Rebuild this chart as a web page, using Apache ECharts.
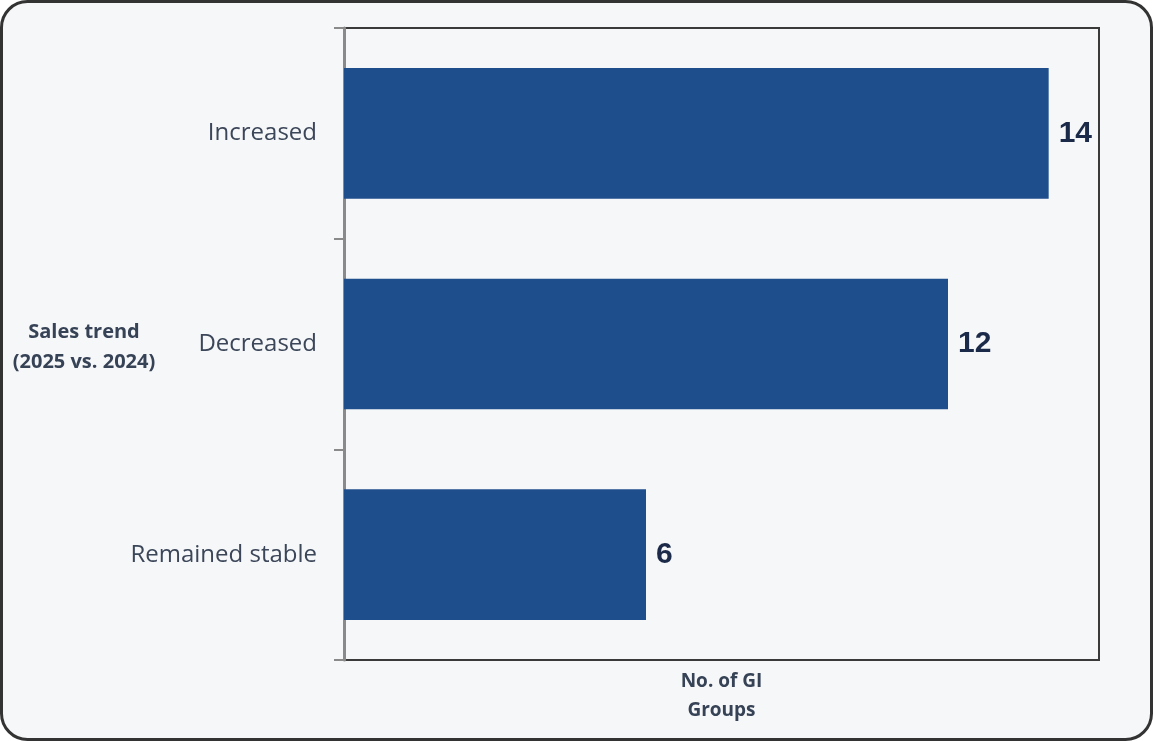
<!DOCTYPE html>
<html>
<head>
<meta charset="utf-8">
<script src="https://cdn.jsdelivr.net/npm/echarts@6/dist/echarts.min.js"></script>
<style>
html,body{margin:0;padding:0;background:#ffffff;}
#chart{width:1153px;height:741px;}
</style>
</head>
<body>
<div id="chart"></div>
<script>
const categories = ["Increased", "Decreased", "Remained stable"];
const values = [14, 12, 6];
const yAxisTitle = "Sales trend\n(2025 vs. 2024)";
const xAxisTitle = "No. of GI\nGroups";

const chart = echarts.init(document.getElementById('chart'), null, {renderer: 'canvas'});
const textColor = '#3b4659';
chart.setOption({
  animation: false,
  backgroundColor: 'transparent',
  graphic: [
    {
      type: 'rect', z: -10, silent: true,
      shape: {x: 1.5, y: 1.5, width: 1150, height: 738, r: 26},
      style: {fill: '#f6f7f9', stroke: '#333333', lineWidth: 3}
    },
    {
      type: 'text', z: 10, x: 84, y: 347,
      style: {
        text: yAxisTitle, fill: '#364255', align: 'center', verticalAlign: 'middle',
        font: 'bold 20px "Open Sans"', lineHeight: 30
      }
    }
  ],
  grid: {
    left: 344, top: 28, right: 54, bottom: 81,
    outerBoundsMode: 'none', containLabel: false,
    show: true, borderColor: '#3a3a3a', borderWidth: 2, backgroundColor: 'transparent'
  },
  xAxis: {
    type: 'value', min: 0, max: 15,
    axisLabel: {show: false}, splitLine: {show: false},
    axisLine: {show: false}, axisTick: {show: false},
    name: xAxisTitle, nameLocation: 'middle', nameGap: 7,
    nameTextStyle: {color: '#364255', fontFamily: 'Open Sans', fontWeight: 'bold', fontSize: 19, lineHeight: 29, verticalAlign: 'top'}
  },
  yAxis: {
    type: 'category', data: categories, inverse: true,
    axisLine: {show: true, lineStyle: {color: '#8a8a8a', width: 3}},
    axisTick: {show: true, length: 10, lineStyle: {color: '#8a8a8a', width: 2}},
    axisLabel: {color: textColor, fontFamily: 'Open Sans', fontSize: 24, margin: 27}
  },
  series: [{
    type: 'bar', data: values, barWidth: '62%',
    itemStyle: {color: '#1f4e8c'},
    label: {
      show: true, position: 'right', distance: 10,
      color: '#1b2a48', fontFamily: 'Liberation Sans', fontWeight: 'bold', fontSize: 30
    }
  }]
});
</script>
</body>
</html>
